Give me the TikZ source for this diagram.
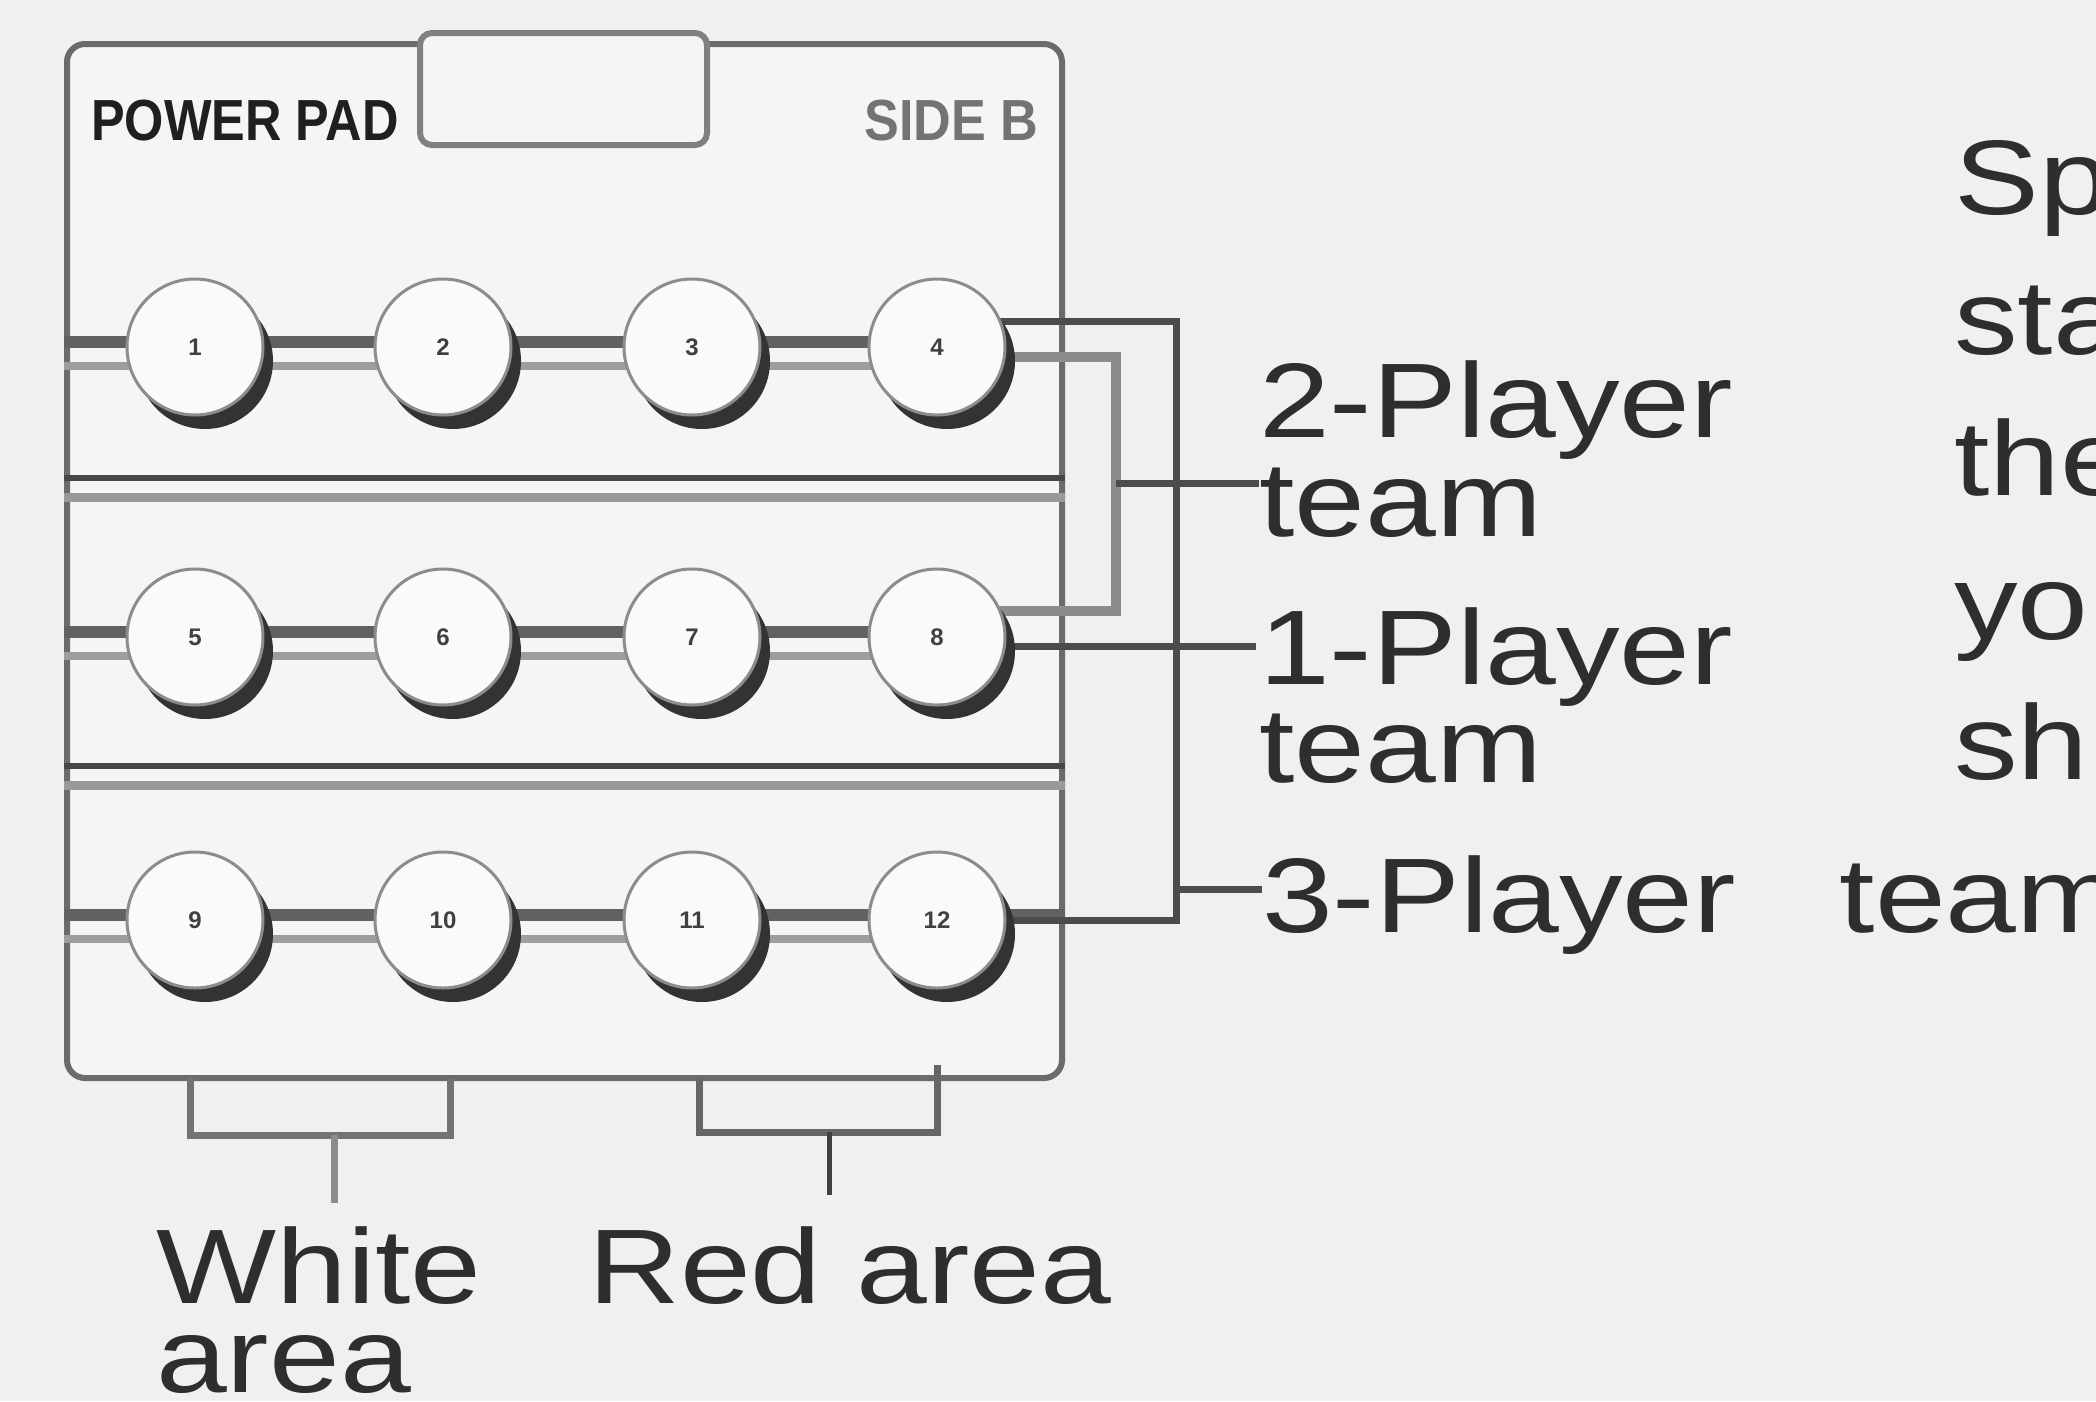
\documentclass[tikz,border=0pt]{standalone}
\usepackage{fontspec}
\setmainfont{Liberation Sans}
\newfontfamily\lab[FakeStretch=1.2]{Liberation Sans}
\newfontfamily\numf{Liberation Sans}
\usetikzlibrary{shadows}
\pgfdeclarelayer{back}
\pgfdeclarelayer{mid}
\pgfsetlayers{back,mid,main}
\begin{document}
\begin{tikzpicture}[x=1pt,y=-1pt,
  paper/.style={fill=black!6},
  panelbox/.style={rectangle,draw=black!58,line width=6pt,rounded corners=18pt,fill=black!4,
    minimum width=995pt,minimum height=1034pt,inner sep=0pt},
  tabbox/.style={draw=black!50,line width=6pt,fill=black!4,rounded corners=12pt},
  btn/.style={circle,minimum size=136pt,inner sep=0pt,draw=black!45,line width=3pt,fill=black!2,
    drop shadow={shadow xshift=10pt,shadow yshift=-14pt,fill=black!80,opacity=1},
    font=\numf\bfseries\fontsize{24}{24}\selectfont,text=black!75},
  cabA/.style={draw=black!62,line width=12pt},
  cabB/.style={draw=black!38,line width=8pt},
  sepA/.style={draw=black!72,line width=6pt},
  sepB/.style={draw=black!40,line width=9pt},
  brk/.style={draw=black!70,line width=7pt},
  brkL/.style={draw=black!45,line width=10pt},
  lbl/.style={font=\lab\fontsize{106}{96}\selectfont,text=black!82,anchor=base west,inner sep=0pt},
  tiny/.style={font=\numf\bfseries\fontsize{58}{58}\selectfont,anchor=base west,inner sep=0pt}
]
\useasboundingbox (0,0) rectangle (2096,1401);

\begin{pgfonlayer}{back}
  \fill[paper] (0,0) rectangle (2096,1401);
  \node[panelbox] (panel) at (564.5,561) {};
  \coordinate (s1a) at (0,478);
  \coordinate (s1b) at (0,497);
  \coordinate (s2a) at (0,766);
  \coordinate (s2b) at (0,785);
  \draw[sepB] (panel.west |- s1b) -- (panel.east |- s1b);
  \draw[sepA] (panel.west |- s1a) -- (panel.east |- s1a);
  \draw[sepB] (panel.west |- s2b) -- (panel.east |- s2b);
  \draw[sepA] (panel.west |- s2a) -- (panel.east |- s2a);
  \draw[tabbox] (420,33) rectangle (707,145);
\end{pgfonlayer}

% panel header texts
\node[tiny,text=black!88] (pp) at (91,140) {\scalebox{0.87}[1]{POWER PAD}};
\node[tiny,text=black!55] (sb) at (864,140) {\scalebox{0.9}[1]{SIDE B}};

% buttons
\node[btn] (b1) at (195,347) {1};
\node[btn] (b2) at (443,347) {2};
\node[btn] (b3) at (692,347) {3};
\node[btn] (b4) at (937,347) {4};
\node[btn] (b5) at (195,637) {5};
\node[btn] (b6) at (443,637) {6};
\node[btn] (b7) at (692,637) {7};
\node[btn] (b8) at (937,637) {8};
\node[btn] (b9) at (195,920) {9};
\node[btn] (b10) at (443,920) {10};
\node[btn] (b11) at (692,920) {11};
\node[btn] (b12) at (937,920) {12};

\coordinate (L1) at (panel.west |- b1);
\coordinate (L2) at (panel.west |- b5);
\coordinate (L3) at (panel.west |- b9);
\coordinate (R3) at (panel.east |- b12);

% bracket corners
\coordinate (ot) at (1176,321);
\coordinate (ob) at (1176,920);
\coordinate (it) at (1116,357);
\coordinate (ib) at (1116,611);
\coordinate (it2) at (1116,483);
\coordinate (ot3) at (1176,889);
\coordinate (p1) at (1256,646);

% labels
\node[lbl] (n2a) at (1259,437) {2-Player};
\node[lbl] (n2b) at (1259,536) {team};
\node[lbl] (n1a) at (1259,684) {1-Player};
\node[lbl] (n1b) at (1259,782) {team};
\node[lbl] (n3) at (1262,932) {3-Player\hspace{104pt}team};
\node[lbl] (r1) at (1954,214) {Sp};
\node[lbl] (r2) at (1954,354) {sta};
\node[lbl] (r3) at (1954,495) {the};
\node[lbl] (r4) at (1954,639) {yo};
\node[lbl] (r5) at (1954,779) {sh};
\node[lbl] (wa) at (156,1303) {White};
\node[lbl] (wb) at (156,1392) {area};
\node[lbl] (ra) at (588,1303) {Red area};

% bottom bracket points
\coordinate (wl) at (190,1078);
\coordinate (wb1) at (190,1135);
\coordinate (wb2) at (450,1135);
\coordinate (wr) at (450,1078);
\coordinate (ws) at (334,1135);
\coordinate (wse) at (334,1203);
\coordinate (rl) at (699,1078);
\coordinate (rb1) at (699,1132);
\coordinate (rb2) at (937,1132);
\coordinate (rr) at (937,1065);
\coordinate (rs) at (829,1132);
\coordinate (rse) at (829,1195);

\begin{pgfonlayer}{mid}
  % cables
  \draw[cabB] ([yshift=-19pt]L1) -- ([yshift=-19pt]b4.center);
  \draw[cabA] ([yshift=5pt]L1) -- ([yshift=5pt]b4.center);
  \draw[cabB] ([yshift=-19pt]L2) -- ([yshift=-19pt]b8.center);
  \draw[cabA] ([yshift=5pt]L2) -- ([yshift=5pt]b8.center);
  \draw[cabB] ([yshift=-19pt]L3) -- ([yshift=-19pt]b12.center);
  \draw[cabA] ([yshift=5pt]L3) -- ([yshift=5pt]R3);
  % team brackets
  \draw[brkL] ([yshift=-10pt]b4.center) -- (it) -- (ib) -- ([yshift=26pt]b8.center);
  \draw[brk] ([yshift=26pt]b4.center) -- (ot) -- (ob) -- (b12.center);
  \draw[brk] ([yshift=-9pt]b8.center) -- (p1);
  \draw[brk] (it2) -- (it2 -| n2a.west);
  \draw[brk] (ot3) -- (ot3 -| n3.west);
\end{pgfonlayer}

% area brackets
\draw[draw=black!55,line width=7pt] (wl) -- (wb1) -- (wb2) -- (wr);
\draw[draw=black!45,line width=7pt] (ws) -- (wse);
\draw[draw=black!60,line width=7pt] (rl) -- (rb1) -- (rb2) -- (rr);
\draw[draw=black!75,line width=5pt] (rs) -- (rse);
\end{tikzpicture}
\end{document}
